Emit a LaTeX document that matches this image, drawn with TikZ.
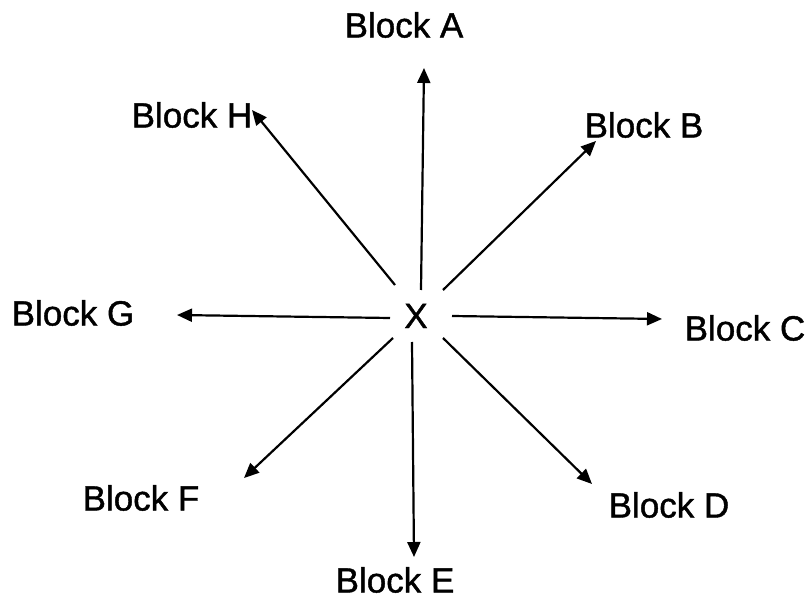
\documentclass[tikz,border=0pt]{standalone}
\usepackage{fontspec}
\setmainfont{Liberation Sans}[FakeBold=1.2]
\usetikzlibrary{arrows.meta}
\begin{document}
\begin{tikzpicture}[x=1pt,y=-1pt,
  lbl/.style={inner sep=0pt, font=\fontsize{35}{40}\selectfont},
  conn/.style={line width=2.2pt, -{Triangle[length=15pt,width=13pt]}}]
\useasboundingbox (0,0) rectangle (809,601);
\node[lbl] (X) at (416,316) {X};
\node[lbl] (A) at (404,25) {Block A};
\node[lbl] (B) at (644,125) {Block B};
\node[lbl] (C) at (745,328) {Block C};
\node[lbl] (D) at (669,505) {Block D};
\node[lbl] (E) at (395,580) {Block E};
\node[lbl] (F) at (141,498) {Block F};
\node[lbl] (G) at (73,313) {Block G};
\node[lbl] (H) at (192,115) {Block H};
% arrow ends
\coordinate (sA) at (421,290); \coordinate (tA) at (424,68);
\coordinate (sB) at (443,290); \coordinate (tB) at (596,141);
\coordinate (sC) at (452,316); \coordinate (tC) at (662,319);
\coordinate (sD) at (443,338); \coordinate (tD) at (592,484);
\coordinate (sE) at (412,342); \coordinate (tE) at (414,557);
\coordinate (sF) at (393,338); \coordinate (tF) at (244,478);
\coordinate (sG) at (390,318); \coordinate (tG) at (177,315);
\coordinate (sH) at (395,285); \coordinate (tH) at (252,110);
\foreach \k in {A,B,C,D,E,F,G,H} {\draw[conn] (s\k) -- (t\k);}
\end{tikzpicture}
\end{document}
